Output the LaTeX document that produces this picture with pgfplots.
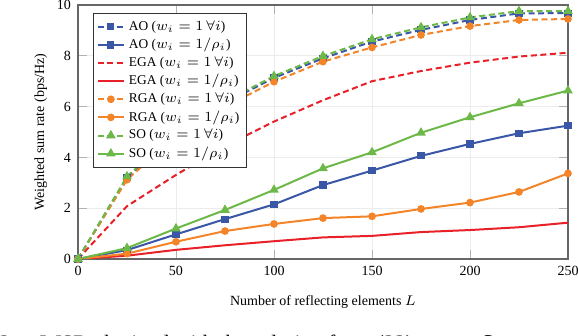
\documentclass[border=0pt]{standalone}
\usepackage{fontspec}
\setmainfont{Liberation Serif}
\usepackage{pgfplots}
\pgfplotsset{compat=1.18}
\usetikzlibrary{calc}

\definecolor{cblue}{RGB}{58,87,167}
\definecolor{cred}{RGB}{232,32,40}
\definecolor{corange}{RGB}{244,132,40}
\definecolor{cgreen}{RGB}{108,184,72}

% x: number of reflecting elements L
\pgfplotstableread{
L    AOa   AOb   EGAa  EGAb  RGAa  RGAb  SOa   SOb
0    0     0     0     0     0     0     0     0
25   3.20  0.35  2.08  0.13  3.12  0.21  3.25  0.43
50   4.95  0.97  3.31  0.36  4.85  0.68  5.00  1.20
75   6.15  1.57  4.45  0.54  6.00  1.10  6.20  1.93
100  7.13  2.15  5.41  0.70  6.98  1.38  7.20  2.72
125  7.90  2.91  6.25  0.85  7.77  1.61  7.99  3.57
150  8.56  3.48  7.00  0.91  8.33  1.68  8.65  4.20
175  9.02  4.06  7.40  1.06  8.82  1.97  9.12  4.97
200  9.41  4.53  7.73  1.14  9.17  2.22  9.51  5.58
225  9.67  4.95  7.97  1.25  9.41  2.64  9.76  6.13
250  9.68  5.25  8.12  1.43  9.45  3.37  9.76  6.63
}\wsr

\begin{document}
\begin{tikzpicture}
\begin{axis}[
    name=ax,
    scale only axis,
    width=245pt,
    height=127pt,
    xmin=0, xmax=250,
    ymin=0, ymax=10,
    xtick={0,50,...,250},
    ytick={0,2,...,10},
    font=\fontsize{7}{8}\selectfont,
    /pgf/number format/assume math mode=true,
    xlabel={Number of reflecting elements $L$},
    ylabel={Weighted sum rate (bps/Hz)},
    xlabel style={yshift=-3pt},
    ylabel style={yshift=-2pt},
    axis line style={gray!80!black, line width=0.8pt},
    tick style={gray!60, line width=0.4pt},
    grid=major,
    grid style={gray!15, line width=0.3pt},
    every axis plot/.append style={line width=1pt},
    dashpat/.style={dash pattern=on 3pt off 1.8pt},
    legend cell align=left,
    legend style={at={(0.031,0.969)}, anchor=north west,
        draw=black!80, line width=0.6pt, fill=white,
        font=\fontsize{6.7}{7.7}\selectfont, inner sep=1.5pt,
        row sep=-1.5pt},
    legend image code/.code={
        \draw[mark repeat=2,mark phase=2] plot coordinates {(0cm,0cm) (0.23cm,0cm) (0.46cm,0cm)};},
]
\addplot[cblue, dashpat, mark=square*, mark size=1.3pt, mark options={solid}] table[x=L,y=AOa] {\wsr};
\addlegendentry{AO ($w_i = 1\,\forall i$)}
\addplot[cblue, mark=square*, mark size=1.3pt] table[x=L,y=AOb] {\wsr};
\addlegendentry{AO ($w_i = 1/\rho_i$)}
\addplot[cred, dashpat] table[x=L,y=EGAa] {\wsr};
\addlegendentry{EGA ($w_i = 1\,\forall i$)}
\addplot[cred] table[x=L,y=EGAb] {\wsr};
\addlegendentry{EGA ($w_i = 1/\rho_i$)}
\addplot[corange, dashpat, mark=*, mark size=1.4pt, mark options={solid}] table[x=L,y=RGAa] {\wsr};
\addlegendentry{RGA ($w_i = 1\,\forall i$)}
\addplot[corange, mark=*, mark size=1.4pt] table[x=L,y=RGAb] {\wsr};
\addlegendentry{RGA ($w_i = 1/\rho_i$)}
\addplot[cgreen, dashpat, mark=triangle*, mark size=1.8pt, mark options={solid}] table[x=L,y=SOa] {\wsr};
\addlegendentry{SO ($w_i = 1\,\forall i$)}
\addplot[cgreen, mark=triangle*, mark size=1.8pt] table[x=L,y=SOb] {\wsr};
\addlegendentry{SO ($w_i = 1/\rho_i$)}
\end{axis}
% figure caption, mostly cut off by the page edge as in the source
\node[anchor=base west, font=\fontsize{11}{13}\selectfont, inner sep=0pt]
    at ($(ax.south west)+(-39.5pt,-45.8pt)$) {2.};
\node[anchor=base west, font=\fontsize{11}{13}\selectfont, inner sep=0pt]
    at ($(ax.south west)+(-19pt,-45.8pt)$) {WSR obtained with the solution from (22) versus $L$.};
\pgfresetboundingbox
\path[use as bounding box] ($(ax.south west)+(-39pt,-38.5pt)$) rectangle ($(ax.north east)+(5pt,2.5pt)$);
\end{tikzpicture}
\end{document}
